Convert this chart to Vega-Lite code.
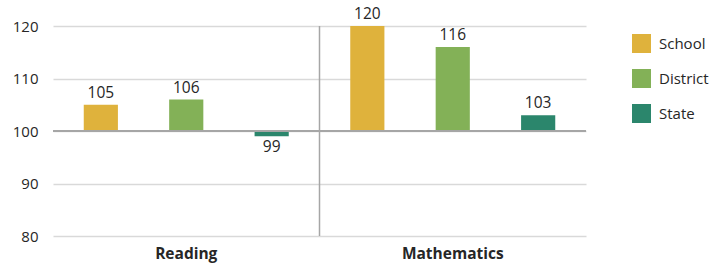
{
  "$schema": "https://vega.github.io/schema/vega-lite/v6.json",
  "autosize": "none",
  "width": 533,
  "height": 210,
  "padding": {"left": 53, "top": 26, "right": 125, "bottom": 31},
  "background": "white",
  "config": {
    "font": "Open Sans",
    "view": {"stroke": null},
    "axis": {"labelFont": "Open Sans", "labelColor": "#262626"}
  },
  "data": {
    "values": [
      {"subject": "Reading", "group": "School", "value": 105},
      {"subject": "Reading", "group": "District", "value": 106},
      {"subject": "Reading", "group": "State", "value": 99},
      {"subject": "Mathematics", "group": "School", "value": 120},
      {"subject": "Mathematics", "group": "District", "value": 116},
      {"subject": "Mathematics", "group": "State", "value": 103}
    ]
  },
  "layer": [
    {
      "mark": {"type": "bar", "width": {"band": 1}},
      "encoding": {
        "x": {
          "field": "subject", "type": "nominal",
          "scale": {"domain": ["Reading", "Mathematics"], "paddingInner": 0, "paddingOuter": 0},
          "axis": {"title": null, "domain": false, "ticks": false, "labelAngle": 0, "labelFontSize": 15.5, "labelFontWeight": "bold", "labelPadding": 10, "grid": false}
        },
        "xOffset": {
          "field": "group", "type": "nominal",
          "scale": {"domain": ["School", "District", "State"], "paddingInner": 0.6, "paddingOuter": 0.36}
        },
        "y": {
          "field": "value", "type": "quantitative",
          "scale": {"domain": [80, 120], "nice": false, "zero": false},
          "axis": {"title": null, "domain": false, "ticks": false, "tickSize": 0, "labelPadding": 15, "labelFontSize": 15, "values": [80, 90, 100, 110, 120], "gridColor": "#d9d9d9", "gridWidth": 1.5}
        },
        "y2": {"datum": 100},
        "color": {
          "field": "group", "type": "nominal",
          "scale": {"domain": ["School", "District", "State"], "range": ["#DFB23C", "#83B157", "#2B866C"]},
          "legend": {
            "title": null, "orient": "none", "legendX": 579, "legendY": 8,
            "symbolType": "square", "symbolSize": 361, "symbolStrokeWidth": 0,
            "labelFontSize": 15, "labelColor": "#262626", "labelOffset": 8, "rowPadding": 16, "padding": 0
          }
        }
      }
    },
    {
      "mark": {"type": "rule", "color": "#a6a6a6", "strokeWidth": 1.5},
      "encoding": {"y": {"datum": 100}}
    },
    {
      "transform": [{"filter": "datum.subject === 'Reading' && datum.group === 'School'"}],
      "mark": {"type": "rule", "color": "#a6a6a6", "strokeWidth": 1.5},
      "encoding": {"x": {"field": "subject", "type": "nominal", "bandPosition": 1}}
    },
    {
      "transform": [{"filter": "datum.value >= 100"}],
      "mark": {"type": "text", "baseline": "bottom", "dy": -4, "fontSize": 15.5, "color": "#262626"},
      "encoding": {
        "x": {"field": "subject", "type": "nominal"},
        "xOffset": {"field": "group", "type": "nominal"},
        "y": {"field": "value", "type": "quantitative"},
        "text": {"field": "value", "type": "quantitative"}
      }
    },
    {
      "transform": [{"filter": "datum.value < 100"}],
      "mark": {"type": "text", "baseline": "top", "dy": 4, "fontSize": 15.5, "color": "#262626"},
      "encoding": {
        "x": {"field": "subject", "type": "nominal"},
        "xOffset": {"field": "group", "type": "nominal"},
        "y": {"field": "value", "type": "quantitative"},
        "text": {"field": "value", "type": "quantitative"}
      }
    }
  ]
}
